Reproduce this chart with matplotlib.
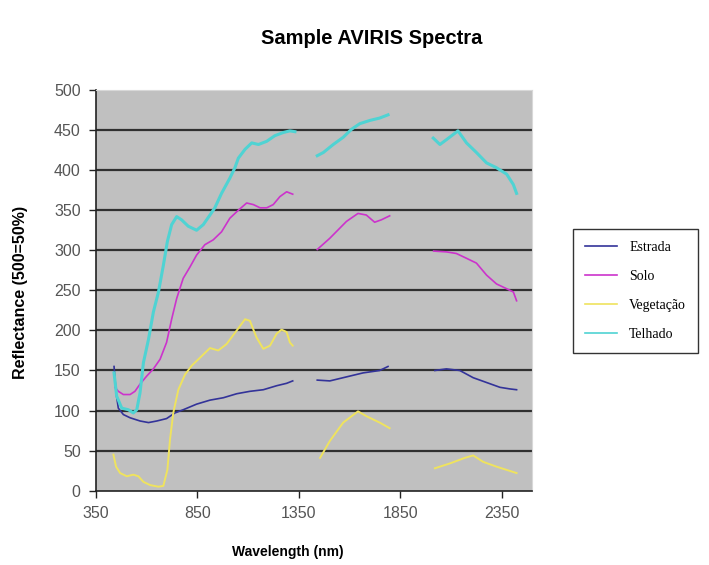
import numpy as np
import matplotlib
matplotlib.use("Agg")
import matplotlib.pyplot as plt

nan = np.nan

# ---- data (wavelength nm, reflectance); nan separates the water-band gaps ----
estrada_wl = [439, 449, 460, 485, 518, 567, 609, 650, 698, 739, 780, 846, 912, 978, 1044, 1109, 1175, 1241, 1290, 1320,
              nan,
              1441, 1503, 1585, 1667, 1749, 1790,
              nan,
              2021, 2078, 2144, 2210, 2276, 2342, 2391, 2424]
estrada = [155, 122, 103, 95, 91, 87, 85, 87, 90, 97, 101, 108, 113, 116, 121, 124, 126, 131, 134, 137,
           nan,
           138, 137, 142, 147, 150, 155,
           nan,
           150, 152, 150, 141, 135, 129, 127, 126]

solo_wl = [444, 460, 485, 518, 542, 567, 600, 633, 666, 698, 723, 748, 780, 813, 846, 887, 928, 969, 1010, 1052,
           1093, 1126, 1159, 1192, 1224, 1257, 1290, 1320,
           nan,
           1441, 1503, 1585, 1642, 1683, 1724, 1757, 1798,
           nan,
           2015, 2078, 2127, 2177, 2226, 2276, 2325, 2375, 2408, 2424]
solo = [129, 124, 120, 120, 124, 133, 143, 152, 164, 185, 214, 240, 265, 279, 294, 307, 313, 323, 340, 350,
        359, 357, 353, 353, 357, 367, 373, 370,
        nan,
        301, 315, 336, 346, 344, 335, 338, 343,
        nan,
        299, 298, 296, 290, 284, 269, 258, 252, 248, 237]

vegetacao_wl = [436, 449, 469, 502, 534, 559, 584, 617, 658, 682, 702, 715, 731, 756, 789, 822, 863, 912, 953, 994,
                1044, 1085, 1109, 1142, 1175, 1208, 1241, 1265, 1290, 1306, 1320,
                nan,
                1455, 1503, 1569, 1642, 1683, 1749, 1798,
                nan,
                2021, 2095, 2169, 2210, 2259, 2325, 2424]
vegetacao = [45, 30, 22, 18, 20, 18, 11, 7, 5, 6, 26, 64, 97, 126, 145, 156, 166, 178, 175, 183,
             200, 214, 212, 191, 177, 181, 196, 201, 198, 185, 181,
             nan,
             41, 62, 85, 99, 93, 85, 78,
             nan,
             28, 34, 41, 44, 36, 30, 22]

telhado_wl = [439, 452, 477, 510, 534, 551, 567, 584, 609, 633, 658, 682, 702, 723, 748, 772, 805, 846, 879, 912,
              936, 969, 1010, 1035, 1052, 1085, 1118, 1151, 1192, 1232, 1274, 1306, 1331,
              nan,
              1441, 1471, 1520, 1569, 1610, 1651, 1700, 1749, 1790,
              nan,
              2013, 2046, 2078, 2135, 2177, 2226, 2276, 2325, 2375, 2408, 2424]
telhado = [147, 118, 103, 101, 97, 101, 122, 160, 189, 223, 248, 281, 311, 332, 342, 338, 330, 325, 332, 344,
           353, 371, 390, 403, 415, 426, 434, 432, 436, 443, 447, 449, 448,
           nan,
           418, 422, 432, 441, 451, 458, 462, 465, 469,
           nan,
           440, 432, 438, 449, 434, 422, 409, 403, 395, 382, 371]

series_names = ["Estrada", "Solo", "Vegetação", "Telhado"]
x_ticks = [350, 850, 1350, 1850, 2350]
y_ticks = [0, 50, 100, 150, 200, 250, 300, 350, 400, 450, 500]

# ---- figure ----
W, H = 709, 565
fig = plt.figure(figsize=(W / 100, H / 100), dpi=100)
fig.patch.set_facecolor("white")
ax = fig.add_axes([96 / W, 1 - 490.7 / H, (532 - 96) / W, (490.7 - 90) / H])
ax.set_facecolor("#C0C0C0")

colors = ["#333399", "#CC33CC", "#EFE35E", "#4FD3D3"]
widths = [1.2, 1.2, 1.4, 2.2]
data = [(estrada_wl, estrada), (solo_wl, solo), (vegetacao_wl, vegetacao), (telhado_wl, telhado)]
handles = []
for (xw, yv), c, lw, name in zip(data, colors, widths, series_names):
    h, = ax.plot(np.array(xw, float), np.array(yv, float), color=c, lw=lw, label=name,
                 solid_joinstyle="round", zorder=3)
    handles.append(h)

ax.set_xlim(350, 2500)
ax.set_ylim(0, 500)
ax.set_xticks(x_ticks)
ax.set_yticks(y_ticks)
ax.tick_params(axis="both", direction="out", length=5, width=1, colors="#222222",
               labelsize=11.5, labelcolor="#555555", pad=6)
for lab in ax.get_xticklabels() + ax.get_yticklabels():
    lab.set_fontfamily("Liberation Sans")

ax.grid(axis="y", color="#303030", lw=1.6, zorder=1)
ax.set_axisbelow(True)
gl = ax.yaxis.get_gridlines()
gl[-1].set_visible(False)
gl[0].set_visible(False)

ax.spines["left"].set_color("#222222")
ax.spines["bottom"].set_color("#222222")
ax.spines["left"].set_linewidth(1.2)
ax.spines["bottom"].set_linewidth(1.2)
ax.spines["top"].set_color("#D8D8D8")
ax.spines["right"].set_color("#D8D8D8")

fig.text(372 / W, 1 - 38 / H, "Sample AVIRIS Spectra", ha="center", va="center",
         fontsize=14.5, fontweight="bold", family="Liberation Sans")
fig.text(288 / W, 1 - 552 / H, "Wavelength (nm)", ha="center", va="center",
         fontsize=10, fontweight="bold", family="Liberation Sans")
fig.text(21 / W, 1 - 292 / H, "Reflectance (500=50%)", ha="center", va="center",
         rotation=90, fontsize=11.5, fontweight="bold", family="Liberation Sans")

leg = fig.legend(handles=handles, labels=series_names, loc="center left",
                 bbox_to_anchor=(573 / W, 1 - 291 / H), frameon=True, fancybox=False,
                 edgecolor="black", prop={"family": "Liberation Serif", "size": 10},
                 handlelength=2.3, handletextpad=0.9, labelspacing=1.15, borderpad=0.85,
                 borderaxespad=0)
leg.get_frame().set_linewidth(1.0)
for lh in leg.get_lines():
    lh.set_linewidth(1.2)

fig.savefig("out.png", dpi=100, facecolor="white")
